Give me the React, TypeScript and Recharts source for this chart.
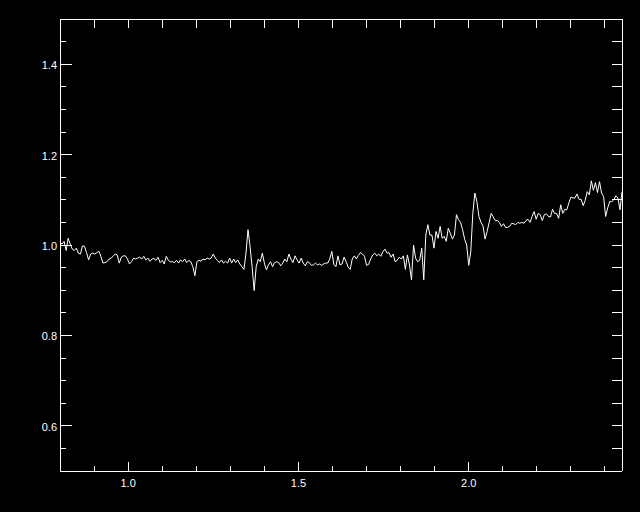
import * as React from "react";
import { LineChart, Line, XAxis, YAxis } from "recharts";

// wavelength grid (microns)
const WAVE = [
  0.8, 0.806, 0.812, 0.818, 0.824, 0.83, 0.836, 0.842, 0.848, 0.854,
  0.86, 0.866, 0.872, 0.878, 0.884, 0.89, 0.896, 0.902, 0.908, 0.914,
  0.92, 0.926, 0.932, 0.938, 0.944, 0.95, 0.956, 0.962, 0.968, 0.974,
  0.98, 0.986, 0.992, 0.998, 1.004, 1.01, 1.016, 1.022, 1.028, 1.034,
  1.04, 1.046, 1.052, 1.058, 1.064, 1.07, 1.076, 1.082, 1.088, 1.094,
  1.1, 1.106, 1.112, 1.118, 1.124, 1.13, 1.136, 1.142, 1.148, 1.154,
  1.16, 1.166, 1.172, 1.178, 1.184, 1.19, 1.196, 1.202, 1.208, 1.214,
  1.22, 1.226, 1.232, 1.238, 1.244, 1.25, 1.256, 1.262, 1.268, 1.274,
  1.28, 1.286, 1.292, 1.298, 1.304, 1.31, 1.316, 1.322, 1.328, 1.334,
  1.34, 1.346, 1.352, 1.358, 1.364, 1.37, 1.376, 1.382, 1.388, 1.394,
  1.4, 1.406, 1.412, 1.418, 1.424, 1.43, 1.436, 1.442, 1.448, 1.454,
  1.46, 1.466, 1.472, 1.478, 1.484, 1.49, 1.496, 1.502, 1.508, 1.514,
  1.52, 1.526, 1.532, 1.538, 1.544, 1.55, 1.556, 1.562, 1.568, 1.574,
  1.58, 1.586, 1.592, 1.598, 1.604, 1.61, 1.616, 1.622, 1.628, 1.634,
  1.64, 1.646, 1.652, 1.658, 1.664, 1.67, 1.676, 1.682, 1.688, 1.694,
  1.7, 1.706, 1.712, 1.718, 1.724, 1.73, 1.736, 1.742, 1.748, 1.754,
  1.76, 1.766, 1.772, 1.778, 1.784, 1.79, 1.796, 1.802, 1.808, 1.814,
  1.82, 1.826, 1.832, 1.838, 1.844, 1.85, 1.856, 1.862, 1.868, 1.874,
  1.88, 1.886, 1.892, 1.898, 1.904, 1.91, 1.916, 1.922, 1.928, 1.934,
  1.94, 1.946, 1.952, 1.958, 1.964, 1.97, 1.976, 1.982, 1.988, 1.994,
  2.0, 2.006, 2.012, 2.018, 2.024, 2.03, 2.036, 2.042, 2.048, 2.054,
  2.06, 2.066, 2.072, 2.078, 2.084, 2.09, 2.096, 2.102, 2.108, 2.114,
  2.12, 2.126, 2.132, 2.138, 2.144, 2.15, 2.156, 2.162, 2.168, 2.174,
  2.18, 2.186, 2.192, 2.198, 2.204, 2.21, 2.216, 2.222, 2.228, 2.234,
  2.24, 2.246, 2.252, 2.258, 2.264, 2.27, 2.276, 2.282, 2.288, 2.294,
  2.3, 2.306, 2.312, 2.318, 2.324, 2.33, 2.336, 2.342, 2.348, 2.354,
  2.36, 2.366, 2.372, 2.378, 2.384, 2.39, 2.396, 2.402, 2.408, 2.414,
  2.42, 2.426, 2.432, 2.438, 2.444, 2.45,
];

// normalised flux
const FLUX = [
  1.005, 1.002, 1.008, 0.988, 1.015, 1.002, 0.991, 0.988, 0.993, 0.982,
  0.98, 0.998, 0.997, 0.983, 0.967, 0.98, 0.982, 0.98, 0.983, 0.986,
  0.975, 0.96, 0.961, 0.963, 0.969, 0.971, 0.975, 0.98, 0.978, 0.96,
  0.973, 0.976, 0.976, 0.969, 0.958, 0.963, 0.971, 0.969, 0.971, 0.973,
  0.969, 0.975, 0.967, 0.971, 0.964, 0.969, 0.97, 0.966, 0.973, 0.961,
  0.966, 0.958, 0.975, 0.966, 0.963, 0.963, 0.961, 0.966, 0.96, 0.967,
  0.963, 0.969, 0.961, 0.966, 0.963, 0.952, 0.932, 0.963, 0.966, 0.964,
  0.969, 0.967, 0.971, 0.969, 0.971, 0.98, 0.971, 0.966, 0.961, 0.967,
  0.96, 0.964, 0.96, 0.971, 0.96, 0.969, 0.961, 0.967, 0.958, 0.952,
  0.946, 0.982, 1.034, 0.997, 0.952, 0.899, 0.952, 0.969, 0.963, 0.982,
  0.96, 0.945, 0.956, 0.963, 0.952, 0.961, 0.963, 0.961, 0.954, 0.96,
  0.969, 0.963, 0.98, 0.969, 0.961, 0.976, 0.967, 0.96, 0.971, 0.96,
  0.954, 0.963, 0.961, 0.955, 0.956, 0.96, 0.956, 0.958, 0.955, 0.958,
  0.96, 0.96, 0.969, 0.986, 0.957, 0.952, 0.976, 0.956, 0.958, 0.973,
  0.963, 0.951, 0.946, 0.969, 0.976, 0.969, 0.977, 0.983, 0.98, 0.975,
  0.955, 0.957, 0.969, 0.978, 0.982, 0.976, 0.98, 0.975, 0.985, 0.991,
  0.982, 0.983, 0.973, 0.98, 0.963, 0.966, 0.973, 0.969, 0.976, 0.946,
  0.978, 0.956, 0.923, 1.0, 0.971, 0.963, 0.966, 0.993, 0.923, 1.022,
  1.045, 1.022, 1.022, 0.993, 1.03, 1.015, 1.041, 1.015, 1.019, 1.008,
  1.037, 1.026, 1.013, 1.022, 1.067, 1.056, 1.05, 1.034, 1.013, 1.0,
  0.955, 0.985, 1.07, 1.115, 1.096, 1.063, 1.05, 1.042, 1.013, 1.03,
  1.05, 1.07, 1.062, 1.054, 1.054, 1.05, 1.041, 1.047, 1.039, 1.039,
  1.041, 1.048, 1.047, 1.045, 1.05, 1.048, 1.05, 1.048, 1.054, 1.057,
  1.05, 1.063, 1.074, 1.057, 1.07, 1.067, 1.054, 1.067, 1.069, 1.063,
  1.062, 1.079, 1.07, 1.07, 1.059, 1.089, 1.07, 1.079, 1.078, 1.093,
  1.106, 1.104, 1.104, 1.113, 1.101, 1.101, 1.087, 1.099, 1.118, 1.111,
  1.142, 1.121, 1.138, 1.116, 1.14, 1.115, 1.107, 1.063, 1.082, 1.096,
  1.096, 1.1, 1.109, 1.104, 1.078, 1.118,
];

const X_TICKS = [0.9, 1.0, 1.1, 1.2, 1.3, 1.4, 1.5, 1.6, 1.7, 1.8, 1.9, 2.0, 2.1, 2.2, 2.3, 2.4];
const Y_TICKS = [
  0.55, 0.6, 0.65, 0.7, 0.75, 0.8, 0.85, 0.9, 0.95, 1.0,
  1.05, 1.1, 1.15, 1.2, 1.25, 1.3, 1.35, 1.4, 1.45,
];

const data = WAVE.map((w, i) => ({ w, f: FLUX[i] }));

const WHITE = "#ffffff";
const FONT = "'Liberation Sans', Arial, sans-serif";

const isMajor = (v: number, step: number) =>
  Math.abs(v / step - Math.round(v / step)) < 1e-6;

function BottomTick({ x, y, payload }: any) {
  const major = isMajor(payload.value, 0.5);
  return (
    <g>
      <line x1={x} x2={x} y1={y} y2={y - (major ? 9 : 5)} stroke={WHITE} shapeRendering="crispEdges" />
      {major && (
        <text x={x} y={y + 16} textAnchor="middle" fill={WHITE} fontSize={11} fontFamily={FONT}>
          {payload.value.toFixed(1)}
        </text>
      )}
    </g>
  );
}

function TopTick({ x, y }: any) {
  return <line x1={x} x2={x} y1={y} y2={y + 9} stroke={WHITE} shapeRendering="crispEdges" />;
}

function LeftTick({ x, y, payload }: any) {
  const major = isMajor(payload.value, 0.2);
  return (
    <g>
      <line x1={x} x2={x + (major ? 12 : 6)} y1={y} y2={y} stroke={WHITE} shapeRendering="crispEdges" />
      {major && (
        <text x={x - 3} y={y + 5} textAnchor="end" fill={WHITE} fontSize={11} fontFamily={FONT}>
          {payload.value.toFixed(1)}
        </text>
      )}
    </g>
  );
}

function RightTick({ x, y }: any) {
  return <line x1={x} x2={x - 10} y1={y} y2={y} stroke={WHITE} shapeRendering="crispEdges" />;
}

const axisLine = { stroke: WHITE, shapeRendering: "crispEdges" };

export default function App() {
  return (
    <div style={{ position: "absolute", left: 0, top: 0, width: 640, height: 512, background: "#000" }}>
      <LineChart width={640} height={512} data={data} margin={{ top: 18, right: 17, bottom: 0, left: 0 }}>
        <XAxis
          dataKey="w"
          type="number"
          domain={[0.8, 2.45]}
          allowDataOverflow
          ticks={X_TICKS}
          interval={0}
          height={41}
          tickSize={0}
          tickMargin={0}
          tickLine={false}
          axisLine={axisLine}
          tick={<BottomTick />}
        />
        <XAxis
          xAxisId="top"
          dataKey="w"
          orientation="top"
          type="number"
          domain={[0.8, 2.45]}
          allowDataOverflow
          ticks={X_TICKS}
          interval={0}
          height={1}
          tickSize={0}
          tickMargin={0}
          tickLine={false}
          axisLine={axisLine}
          tick={<TopTick />}
        />
        <YAxis
          type="number"
          domain={[0.5, 1.5]}
          allowDataOverflow
          ticks={Y_TICKS}
          interval={0}
          width={60}
          tickSize={0}
          tickMargin={0}
          tickLine={false}
          axisLine={axisLine}
          tick={<LeftTick />}
        />
        <YAxis
          yAxisId="right"
          orientation="right"
          type="number"
          domain={[0.5, 1.5]}
          allowDataOverflow
          ticks={Y_TICKS}
          interval={0}
          width={1}
          tickSize={0}
          tickMargin={0}
          tickLine={false}
          axisLine={axisLine}
          tick={<RightTick />}
        />
        <Line
          dataKey="f"
          stroke={WHITE}
          strokeWidth={1}
          dot={false}
          activeDot={false}
          isAnimationActive={false}
        />
        <Line
          xAxisId="top"
          yAxisId="right"
          dataKey="f"
          stroke="none"
          dot={false}
          activeDot={false}
          isAnimationActive={false}
        />
      </LineChart>
    </div>
  );
}
